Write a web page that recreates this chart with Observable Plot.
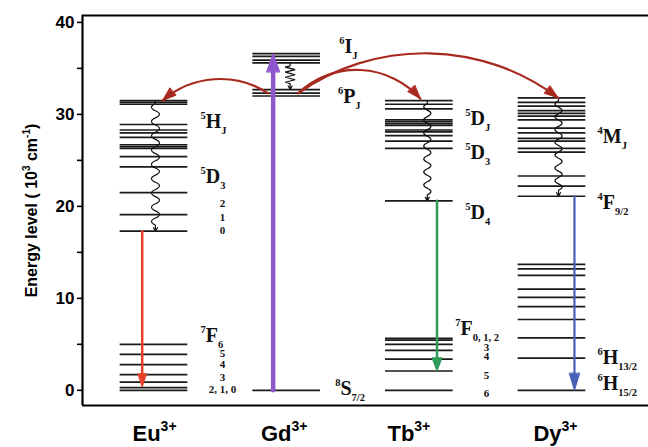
<!DOCTYPE html>
<html>
<head>
<meta charset="utf-8">
<script src="https://cdn.jsdelivr.net/npm/d3@7"></script>
<script src="https://cdn.jsdelivr.net/npm/@observablehq/plot@0.6"></script>
<style>
html,body{margin:0;padding:0;background:#fff;}
#chart{width:648px;height:447px;overflow:hidden;}
</style>
</head>
<body>
<div id="chart"></div>
<script>
// ================= DATA (energies in 10^3 cm^-1) =================
const ionNames = ["Eu", "Gd", "Tb", "Dy"];
const ionCharge = "3+";

const euLevels = [31.5, 31.3, 31.1, 28.9, 28.3, 28.0, 27.5, 26.7, 26.5, 26.3, 25.4, 24.3, 21.5, 19.1, 17.3,
                  5.0, 3.9, 2.8, 1.7, 0.9, 0.3, 0];
const gdLevels = [36.6, 36.3, 35.9, 35.6, 32.7, 32.3, 32.0, 0];
const tbLevels = [31.5, 31.1, 30.6, 29.4, 29.2, 29.0, 28.8, 28.3, 28.1, 27.7, 27.1, 26.3, 20.6,
                  5.65, 5.45, 5.0, 4.35, 3.4, 2.1, 0];
const dyLevels = [31.8, 31.3, 30.9, 30.4, 30.1, 29.8, 29.4, 28.5, 28.0, 27.4, 27.1, 26.3, 25.9, 23.3, 22.2, 21.1,
                  13.7, 13.2, 12.5, 11.0, 10.1, 9.1, 7.7, 5.7, 3.5, 0];

// radiative emissions
const emissionIon = ["Eu", "Tb", "Dy"];
const emissionUpper = [17.3, 20.6, 21.1];
const emissionLower = [0.35, 2.1, 0];
// Gd excitation
const excitationIon = "Gd";
const excitationLower = 0;
const excitationUpper = 36.6;
// non-radiative relaxations
const relaxIon = ["Eu", "Gd", "Tb", "Dy"];
const relaxUpper = [31.5, 35.6, 31.5, 31.8];
const relaxLower = [17.3, 32.7, 20.6, 21.1];
// energy transfer from Gd 6P
const transferTarget = ["Eu", "Tb", "Dy"];
const transferFrom = 32.3;
const transferTo = [31.5, 31.7, 31.8];

// term labels
const termIon = ["Eu", "Eu", "Eu", "Gd", "Gd", "Gd", "Tb", "Tb", "Tb", "Tb", "Dy", "Dy", "Dy", "Dy"];
const termSup = ["5", "5", "7", "6", "6", "8", "5", "5", "5", "7", "4", "4", "6", "6"];
const termMain = ["H", "D", "F", "I", "P", "S", "D", "D", "D", "F", "M", "F", "H", "H"];
const termSub = ["J", "3", "6", "J", "J", "7/2", "J", "3", "4", "0, 1, 2", "J", "9/2", "13/2", "15/2"];
const termEnergy = [29.3, 23.3, 6.0, 37.4, 32.0, 0.2, 29.6, 25.9, 19.35, 6.8, 27.6, 20.4, 3.6, 0.76];

// J sub-level labels
const subIon = ["Eu", "Eu", "Eu", "Eu", "Eu", "Eu", "Eu", "Tb", "Tb", "Tb", "Tb"];
const subText = ["2", "1", "0", "5", "4", "3", "2, 1, 0", "3", "4", "5", "6"];
const subEnergy = [20.3, 18.8, 17.4, 4.05, 2.85, 1.4, 0.05, 4.7, 3.7, 1.6, -0.3];

// axis ticks
const majorTicks = [0, 10, 20, 30, 40];
const minorTicks = [5, 15, 25, 35];
const yLabelParts = ["Energy level ( 10", "3", " cm", "-1", ")"];

// ================= LAYOUT / STYLE =================
const xDomain = [0.465, 4.731];
const yDomain = [-1.65, 40.75];
const halfWidth = 0.255;
const colOf = (ion) => ionNames.indexOf(ion) + 1;
const ionLabelDx = {Eu: 0.008, Gd: -0.015, Tb: -0.075, Dy: 0.03};
const emissionDx = {Eu: -0.085, Tb: 0.137, Dy: 0.173};
const emissionStyle = {
  Eu: {stroke: "#e8402a", strokeWidth: 2.5, headAngle: 36, headLength: 8.2},
  Tb: {stroke: "#2f9b58", strokeWidth: 2.5, headAngle: 42, headLength: 8.3},
  Dy: {stroke: "#4660b8", strokeWidth: 2.2, headAngle: 34, headLength: 12}
};
const excitationDx = -0.098;
const excitationStyle = {stroke: "#9056cc", strokeWidth: 4.5, headAngle: 40, headLength: 6.4};
const relaxDx = {Eu: 0.015, Gd: 0.03, Tb: 0.064, Dy: 0.053};
const relaxStyle = {
  Eu: {wavelength: 14, amplitude: 4},
  Gd: {wavelength: 5, amplitude: 5, zigzag: true},
  Tb: {wavelength: 13, amplitude: 3.6},
  Dy: {wavelength: 13, amplitude: 3.6}
};
const transferStartDx = {Eu: -0.136, Tb: 0.09, Dy: 0.09};
const transferEndDx = {Eu: 0.068, Tb: 0.012, Dy: 0.05};
const transferBend = {Eu: -37, Tb: 46, Dy: 36};
const transferColor = "#a82a1e";
const termDx = [0.354, 0.354, 0.354, 0.40, 0.39, 0.37, 0.35, 0.35, 0.35, 0.275, 0.347, 0.347, 0.347, 0.347];
const subDx = {Eu: 0.52, Tb: 0.51};
const serif = "'Liberation Serif','Times New Roman',serif";
const termFont = 20, termSmall = 10.5;

// custom wavy curve (non-radiative relaxation squiggle)
function wavy({wavelength, amplitude, zigzag = false, head = 4}) {
  return (context) => {
    let pts = [];
    return {
      areaStart() {}, areaEnd() {},
      lineStart() { pts = []; },
      point(x, y) { pts.push([+x, +y]); },
      lineEnd() {
        if (pts.length < 2) return;
        const [x1, y1] = pts[0], [x2, y2] = pts[pts.length - 1];
        const len = Math.hypot(x2 - x1, y2 - y1);
        const ux = (x2 - x1) / len, uy = (y2 - y1) / len, nx = -uy, ny = ux;
        const lead = 3, tail = head + 2;
        const wl = len - lead - tail;
        const n = Math.max(2, Math.round(wl / (wavelength / 2)));
        const step = wl / n;
        context.moveTo(x1, y1);
        let sx = x1 + ux * lead, sy = y1 + uy * lead;
        context.lineTo(sx, sy);
        for (let k = 0; k < n; ++k) {
          const s = k % 2 ? -1 : 1;
          const ex = sx + ux * step, ey = sy + uy * step;
          const mx = sx + ux * step / 2, my = sy + uy * step / 2;
          if (zigzag) {
            context.lineTo(mx + nx * amplitude * s, my + ny * amplitude * s);
            context.lineTo(ex, ey);
          } else {
            context.quadraticCurveTo(mx + nx * 2 * amplitude * s, my + ny * 2 * amplitude * s, ex, ey);
          }
          sx = ex; sy = ey;
        }
        context.lineTo(x2, y2);
        context.moveTo(x2 - ux * head + nx * head * 0.55, y2 - uy * head + ny * head * 0.55);
        context.lineTo(x2, y2);
        context.lineTo(x2 - ux * head - nx * head * 0.55, y2 - uy * head - ny * head * 0.55);
      }
    };
  };
}

// ================= MARKS =================
const levelSets = {Eu: euLevels, Gd: gdLevels, Tb: tbLevels, Dy: dyLevels};
const levels = ionNames.flatMap((ion) => levelSets[ion].map((E) => ({ion, E})));

const marks = [];
marks.push(Plot.link(levels, {
  x1: (d) => colOf(d.ion) - halfWidth, x2: (d) => colOf(d.ion) + halfWidth,
  y1: "E", y2: "E", stroke: "#1a1a1a", strokeWidth: 1.7
}));

relaxIon.forEach((ion, i) => {
  marks.push(Plot.link([i], {
    x1: () => colOf(ion) + relaxDx[ion], x2: () => colOf(ion) + relaxDx[ion],
    y1: () => relaxUpper[i], y2: () => relaxLower[i],
    stroke: "#111", strokeWidth: 1.2, curve: wavy(relaxStyle[ion])
  }));
});

emissionIon.forEach((ion, i) => {
  const st = emissionStyle[ion];
  marks.push(Plot.arrow([i], {
    x1: () => colOf(ion) + emissionDx[ion], x2: () => colOf(ion) + emissionDx[ion],
    y1: () => emissionUpper[i], y2: () => emissionLower[i],
    ...st
  }));
});

marks.push(Plot.arrow([0], {
  x1: () => colOf(excitationIon) + excitationDx, x2: () => colOf(excitationIon) + excitationDx,
  y1: () => excitationLower, y2: () => excitationUpper,
  ...excitationStyle
}));

transferTarget.forEach((ion, i) => {
  marks.push(Plot.arrow([i], {
    x1: () => colOf("Gd") + transferStartDx[ion], y1: () => transferFrom,
    x2: () => colOf(ion) + transferEndDx[ion], y2: () => transferTo[i],
    bend: transferBend[ion], stroke: transferColor, strokeWidth: 2.2, headAngle: 38, headLength: 9.8
  }));
});

marks.push(Plot.text(termMain.map((_, i) => i), {
  x: (i) => colOf(termIon[i]) + termDx[i], y: (i) => termEnergy[i],
  text: (i) => `${termSup[i]}|${termMain[i]}|${termSub[i]}`,
  textAnchor: "start", fontSize: termFont, fontWeight: "bold", fontFamily: serif, fill: "#111"
}));

marks.push(Plot.text(subText.map((_, i) => i), {
  x: (i) => colOf(subIon[i]) + subDx[subIon[i]], y: (i) => subEnergy[i],
  text: (i) => subText[i], textAnchor: "middle", fontSize: 11, fontWeight: "bold",
  fontFamily: serif, fill: "#111"
}));

// frame
marks.push(Plot.ruleY([yDomain[0], yDomain[1]], {stroke: "#000", strokeWidth: 2.2}));
marks.push(Plot.ruleX([xDomain[0]], {stroke: "#000", strokeWidth: 2.2}));

// axes
marks.push(Plot.axisY(majorTicks, {
  tickSize: 5, tickPadding: 3, fontSize: 17, fontWeight: "bold", strokeWidth: 1.6,
  label: yLabelParts.join(""), labelAnchor: "center", labelOffset: 57
}));
marks.push(Plot.axisY(minorTicks, {tickSize: 5, strokeWidth: 1.6, tickFormat: () => "", label: null}));
const ionLabelX = ionNames.map((ion) => colOf(ion) + ionLabelDx[ion]);
marks.push(Plot.axisX(ionLabelX, {
  tickSize: 0, tickPadding: 20, fontSize: 22, fontWeight: "bold",
  tickFormat: (d) => ionNames[ionLabelX.indexOf(d)], label: null
}));

const chart = Plot.plot({
  width: 648, height: 447,
  marginLeft: 82, marginRight: 0, marginTop: 15, marginBottom: 42,
  x: {domain: xDomain},
  y: {domain: yDomain},
  style: {fontFamily: "'Liberation Sans', Arial, sans-serif", background: "#fff", color: "#000"},
  marks
});
document.getElementById("chart").appendChild(chart);

// ================= POST-PROCESS (rich text, filled arrowheads) =================
const svgNS = "http://www.w3.org/2000/svg";
function tspan(parent, text, size, dy) {
  const t = document.createElementNS(svgNS, "tspan");
  if (size) t.setAttribute("font-size", size);
  if (dy !== undefined) t.setAttribute("dy", dy);
  t.textContent = text;
  parent.appendChild(t);
}

chart.querySelectorAll("text").forEach((t) => {
  if (!t.textContent.includes("|")) return;
  const [sup, main, sub] = t.textContent.split("|");
  const base = 0.32 * termFont - 6;
  t.removeAttribute("dy");
  t.setAttribute("font-size", termFont);
  t.textContent = "";
  tspan(t, sup, termSmall, base - 9);
  tspan(t, main, termFont, 9);
  tspan(t, sub, termSmall, 6);
});

chart.querySelectorAll('g[aria-label="x-axis tick label"] text').forEach((t) => {
  tspan(t, ionCharge, 14, -10);
});

const yl = chart.querySelector('g[aria-label="y-axis label"] text');
if (yl) {
  yl.textContent = "";
  yl.setAttribute("font-size", 16);
  yl.setAttribute("font-weight", "bold");
  tspan(yl, yLabelParts[0]);
  tspan(yl, yLabelParts[1], 10, -7);
  tspan(yl, yLabelParts[2], null, 7);
  tspan(yl, yLabelParts[3], 10, -7);
  tspan(yl, yLabelParts[4], null, 7);
}

chart.querySelectorAll('g[aria-label="arrow"] path').forEach((p) => {
  const d = p.getAttribute("d");
  const nums = (d.match(/-?\d*\.?\d+(?:e[-+]?\d+)?/gi) || []).map(Number);
  if (nums.length < 10) return;
  const h = nums.slice(-6);
  const color = getComputedStyle(p).stroke;
  const tri = document.createElementNS(svgNS, "path");
  tri.setAttribute("d", `M${h[0]},${h[1]}L${h[2]},${h[3]}L${h[4]},${h[5]}Z`);
  tri.setAttribute("fill", color);
  tri.setAttribute("stroke", color);
  tri.setAttribute("stroke-width", 1);
  if (!/A/i.test(d)) {
    const mx = (h[0] + h[4]) / 2, my = (h[1] + h[5]) / 2;
    p.setAttribute("d", `M${nums[0]},${nums[1]}L${mx},${my}`);
  } else {
    p.setAttribute("d", d.slice(0, d.lastIndexOf("M")));
  }
  p.parentNode.appendChild(tri);
});
</script>
</body>
</html>
